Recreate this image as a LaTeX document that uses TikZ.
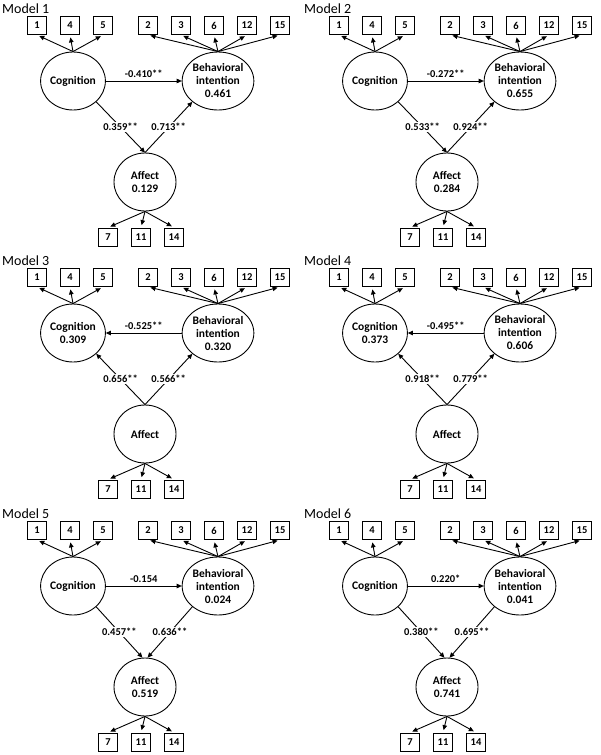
\documentclass[tikz,border=0pt]{standalone}
\usepackage{fontspec}
\setmainfont{Carlito}
\usepackage{tikz}
\usetikzlibrary{arrows.meta,positioning,shapes.geometric}
\definecolor{semink}{HTML}{000000}
\tikzset{
  latent/.style={draw=semink, ellipse, line width=0.9pt, minimum width=62pt, minimum height=58pt,
    inner sep=0pt, align=center, font=\fontsize{11.5}{13}\selectfont\bfseries},
  wide/.style={minimum width=64pt},
  item/.style={draw=semink, rectangle, line width=0.9pt, minimum width=19pt, minimum height=18pt,
    inner sep=0pt, font=\fontsize{10.5}{12}\selectfont\bfseries},
  semarrow/.style={-{Triangle[length=5pt,width=4.5pt]}, line width=0.9pt, draw=semink},
  indarrow/.style={semarrow, shorten >=2.5pt},
  coef/.style={fill=white, inner sep=1pt, font=\fontsize{10.5}{12}\selectfont\bfseries},
  coefh/.style={above=2pt, inner sep=1pt, font=\fontsize{10.5}{12}\selectfont\bfseries},
  paneltitle/.style={anchor=base west, inner sep=0pt, font=\fontsize{14}{16}\selectfont}
}
% one panel: prefix, shift, title, cognition, behavioral intention, affect
\newcommand{\sempanel}[6]{%
  \begin{scope}[shift={#2}]
    \node[paneltitle] (#1title) at (2,13.5) {#3};
    \node[latent] (#1cog) at (73,81) {#4};
    \node[latent, wide] (#1bi) at (218,81) {#5};
    \node[latent] (#1aff) at (145,182) {#6};
    \foreach \lab/\xx in {1/37,4/70,5/103}{
      \node[item] (#1i\lab) at (\xx,25.5) {\lab};
      \draw[indarrow] (#1cog.north) -- (#1i\lab.south);}
    \foreach \lab/\xx in {2/148,3/181,6/214,12/247,15/280}{
      \node[item] (#1i\lab) at (\xx,25.5) {\lab};
      \draw[indarrow] (#1bi.north) -- (#1i\lab.south);}
    \foreach \lab/\xx in {7/108,11/141,14/174}{
      \node[item] (#1i\lab) at (\xx,237) {\lab};
      \draw[indarrow] (#1aff.south) -- (#1i\lab.north);}
  \end{scope}}

\begin{document}
\begin{tikzpicture}[x=1pt,y=-1pt]
  \useasboundingbox (0,0) rectangle (600,755);

  % Model 1
  \sempanel{a}{(0,0)}{Model 1}{Cognition}{Behavioral\\intention\\0.461}{Affect\\0.129}
  \draw[semarrow] (acog) -- node[coefh]{-0.410**} (abi);
  \draw[semarrow] (acog.south east) -- node[coef]{0.359**} (aaff.north);
  \draw[semarrow] (aaff.north) -- node[coef]{0.713**} (abi.south west);

  % Model 2
  \sempanel{b}{(302,0)}{Model 2}{Cognition}{Behavioral\\intention\\0.655}{Affect\\0.284}
  \draw[semarrow] (bcog) -- node[coefh]{-0.272**} (bbi);
  \draw[semarrow] (bcog.south east) -- node[coef]{0.533**} (baff.north);
  \draw[semarrow] (baff.north) -- node[coef]{0.924**} (bbi.south west);

  % Model 3
  \sempanel{c}{(0,252)}{Model 3}{Cognition\\0.309}{Behavioral\\intention\\0.320}{Affect}
  \draw[semarrow] (cbi) -- node[coefh]{-0.525**} (ccog);
  \draw[semarrow] (caff.north) -- node[coef]{0.656**} (ccog.south east);
  \draw[semarrow] (caff.north) -- node[coef]{0.566**} (cbi.south west);

  % Model 4
  \sempanel{d}{(302,252)}{Model 4}{Cognition\\0.373}{Behavioral\\intention\\0.606}{Affect}
  \draw[semarrow] (dbi) -- node[coefh]{-0.495**} (dcog);
  \draw[semarrow] (daff.north) -- node[coef]{0.918**} (dcog.south east);
  \draw[semarrow] (daff.north) -- node[coef]{0.779**} (dbi.south west);

  % Model 5
  \sempanel{e}{(0,505)}{Model 5}{Cognition}{Behavioral\\intention\\0.024}{Affect\\0.519}
  \draw[semarrow] (ecog) -- node[coefh]{-0.154} (ebi);
  \draw[semarrow] (ecog.south east) -- node[coef]{0.457**} (eaff.95);
  \draw[semarrow] (ebi.south west) -- node[coef]{0.636**} (eaff.85);

  % Model 6
  \sempanel{f}{(302,505)}{Model 6}{Cognition}{Behavioral\\intention\\0.041}{Affect\\0.741}
  \draw[semarrow] (fcog) -- node[coefh]{0.220*} (fbi);
  \draw[semarrow] (fcog.south east) -- node[coef]{0.380**} (faff.95);
  \draw[semarrow] (fbi.south west) -- node[coef]{0.695**} (faff.85);
\end{tikzpicture}
\end{document}
